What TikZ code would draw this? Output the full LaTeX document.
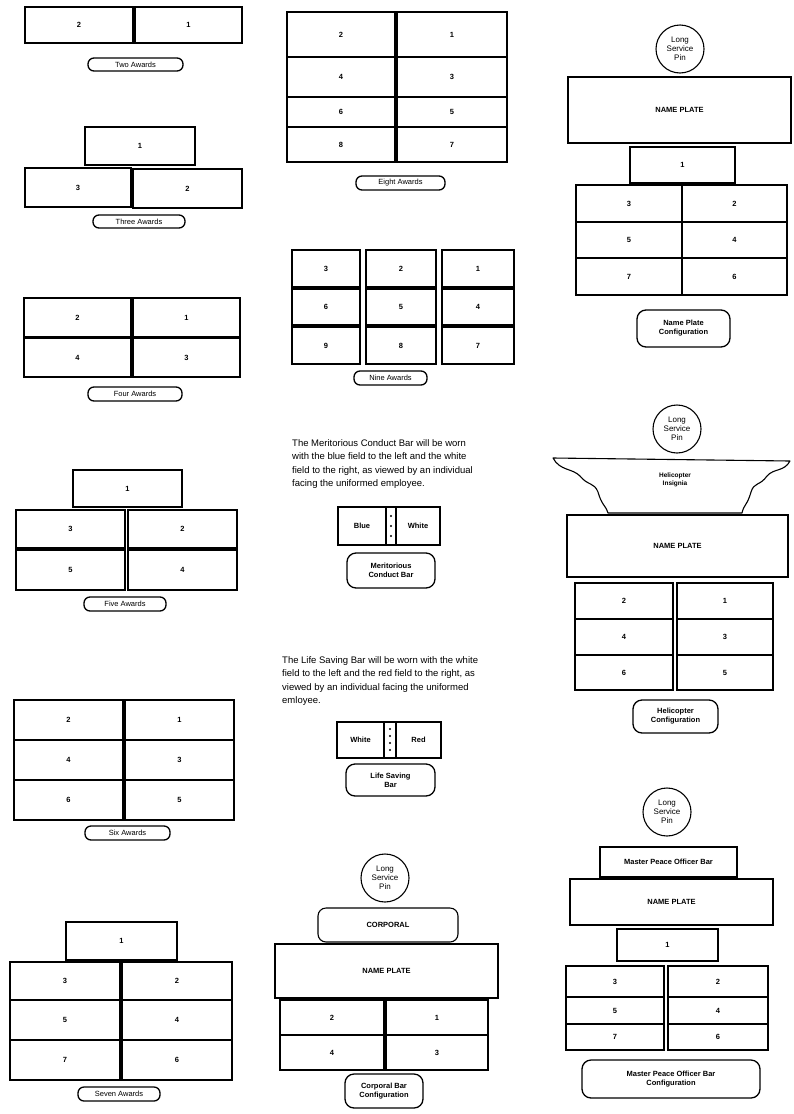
\documentclass[tikz,border=0pt]{standalone}
\usepackage{fontspec}
\setmainfont{Liberation Sans}
\tikzset{
  cell/.style={draw, line width=1.1pt, inner sep=0pt, outer sep=0pt, font=\fontsize{7.5}{8.5}\selectfont\bfseries},
  pill/.style={draw, line width=1.3pt, rounded corners=6pt, inner sep=0pt, outer sep=0pt, align=center, font=\fontsize{7.5}{8.5}\selectfont},
  pill2/.style={pill, rounded corners=9pt, font=\fontsize{7.5}{9}\selectfont\bfseries},
  pin/.style={draw, circle, line width=1.1pt, minimum size=48pt, inner sep=0pt, align=center, font=\fontsize{8}{9}\selectfont},
  para/.style={anchor=north west, align=left, inner sep=0pt, font=\fontsize{9.5}{13.5}\selectfont},
  plate/.style={cell, font=\fontsize{7.5}{8.5}\selectfont\bfseries},
  field/.style={cell, font=\fontsize{7.5}{8.5}\selectfont\bfseries}
}
\newcommand\bx[7][cell]{\node[#1,minimum width={(#5-#3)*1pt},minimum height={(#6-#4)*1pt}] (#2) at ({(#3+#5)/2},{(#4+#6)/2}) {#7};}
\begin{document}
\begin{tikzpicture}[x=1pt,y=-1pt]
\useasboundingbox[fill=white] (0,0) rectangle (793,1114);
% ---------- column 1 ----------
\bx{a2l}{25}{7}{133}{43}{2}
\bx{a2r}{135}{7}{242}{43}{1}
\bx[pill]{a2p}{88}{58}{183}{71}{Two Awards}

\bx{a3t}{85}{127}{195}{165}{1}
\bx{a3l}{25}{168}{131}{207}{3}
\bx{a3r}{133}{169}{242}{208}{2}
\bx[pill]{a3p}{93}{215}{185}{228}{Three Awards}

\bx{a4a}{24}{298}{131}{337}{2}
\bx{a4b}{133}{298}{240}{337}{1}
\bx{a4c}{24}{338}{131}{377}{4}
\bx{a4d}{133}{338}{240}{377}{3}
\bx[pill]{a4p}{88}{387}{182}{401}{Four Awards}

\bx{a5t}{73}{470}{182}{507}{1}
\bx{a5a}{16}{510}{125}{548}{3}
\bx{a5b}{128}{510}{237}{548}{2}
\bx{a5c}{16}{550}{125}{590}{5}
\bx{a5d}{128}{550}{237}{590}{4}
\bx[pill]{a5p}{84}{597}{166}{611}{Five Awards}

\bx{a6a}{14}{700}{123}{740}{2}
\bx{a6b}{125}{700}{234}{740}{1}
\bx{a6c}{14}{740}{123}{780}{4}
\bx{a6d}{125}{740}{234}{780}{3}
\bx{a6e}{14}{780}{123}{820}{6}
\bx{a6f}{125}{780}{234}{820}{5}
\bx[pill]{a6p}{85}{826}{170}{840}{Six Awards}

\bx{a7t}{66}{922}{177}{960}{1}
\bx{a7a}{10}{962}{120}{1000}{3}
\bx{a7b}{122}{962}{232}{1000}{2}
\bx{a7c}{10}{1000}{120}{1040}{5}
\bx{a7d}{122}{1000}{232}{1040}{4}
\bx{a7e}{10}{1040}{120}{1080}{7}
\bx{a7f}{122}{1040}{232}{1080}{6}
\bx[pill]{a7p}{78}{1087}{160}{1101}{Seven Awards}

% ---------- column 2 ----------
\bx{a8a}{287}{12}{395}{57}{2}
\bx{a8b}{397}{12}{507}{57}{1}
\bx{a8c}{287}{57}{395}{97}{4}
\bx{a8d}{397}{57}{507}{97}{3}
\bx{a8e}{287}{97}{395}{127}{6}
\bx{a8f}{397}{97}{507}{127}{5}
\bx{a8g}{287}{127}{395}{162}{8}
\bx{a8h}{397}{127}{507}{162}{7}
\bx[pill]{a8p}{356}{176}{445}{190}{Eight Awards}

\bx{a9a}{292}{250}{360}{287}{3}
\bx{a9b}{366}{250}{436}{287}{2}
\bx{a9c}{442}{250}{514}{287}{1}
\bx{a9d}{292}{289}{360}{325}{6}
\bx{a9e}{366}{289}{436}{325}{5}
\bx{a9f}{442}{289}{514}{325}{4}
\bx{a9g}{292}{327}{360}{364}{9}
\bx{a9h}{366}{327}{436}{364}{8}
\bx{a9i}{442}{327}{514}{364}{7}
\bx[pill]{a9p}{354}{371}{427}{385}{Nine Awards}

\node[para] (mtext) at (292,439) {The Meritorious Conduct Bar will be worn\\with the blue field to the left and the white\\field to the right, as viewed by an individual\\facing the uniformed employee.};
\bx[field]{mblue}{338}{507}{386}{545}{Blue}
\bx[field]{mstripe}{386}{507}{396}{545}{}
\bx[field]{mwhite}{396}{507}{440}{545}{White}
\foreach \yy in {516,526,536} \fill (391,\yy) circle (1.2pt);
\bx[pill2]{mpill}{347}{553}{435}{588}{Meritorious\\Conduct Bar}

\node[para] (ltext) at (282,656) {The Life Saving Bar will be worn with the white\\field to the left and the red field to the right, as\\viewed by an individual facing the uniformed\\emloyee.};
\bx[field]{lwhite}{337}{722}{384}{758}{White}
\bx[field]{lstripe}{384}{722}{396}{758}{}
\bx[field]{lred}{396}{722}{441}{758}{Red}
\foreach \yy in {729,736,743,750} \fill (390,\yy) circle (1.1pt);
\bx[pill2]{lpill}{346}{764}{435}{796}{Life Saving\\Bar}

\node[pin] (cpin) at (385,878) {Long\\Service\\Pin};
\bx[plate,rounded corners=8pt]{corp}{318}{908}{458}{942}{CORPORAL}
\bx[plate]{cplate}{275}{944}{498}{998}{NAME PLATE}
\bx{ca}{280}{1000}{384}{1035}{2}
\bx{cb}{386}{1000}{488}{1035}{1}
\bx{cc}{280}{1035}{384}{1070}{4}
\bx{cd}{386}{1035}{488}{1070}{3}
\bx[pill2]{cpill}{345}{1074}{423}{1108}{Corporal Bar\\Configuration}

% ---------- column 3 ----------
\node[pin] (npin) at (680,49) {Long\\Service\\Pin};
\bx[plate]{nplate}{568}{77}{791}{143}{NAME PLATE}
\bx{nt}{630}{147}{735}{183}{1}
\bx{na}{576}{185}{682}{222}{3}
\bx{nb}{682}{185}{787}{222}{2}
\bx{nc}{576}{222}{682}{258}{5}
\bx{nd}{682}{222}{787}{258}{4}
\bx{ne}{576}{258}{682}{295}{7}
\bx{nf}{682}{258}{787}{295}{6}
\bx[pill2]{npill}{637}{310}{730}{347}{Name Plate\\Configuration}

\node[pin] (hpin) at (677,429) {Long\\Service\\Pin};
\draw[line width=1.1pt, line join=round] (553,458) -- (790,461)
  .. controls (784,472) and (774,468) .. (767,476)
  .. controls (760,486) and (754,482) .. (751,492)
  .. controls (747,506) and (744,504) .. (742,513)
  -- (608,513)
  .. controls (605,504) and (602,506) .. (598,492)
  .. controls (594,482) and (588,486) .. (580,476)
  .. controls (572,468) and (560,471) .. (553,458) -- cycle;
\node[align=center, inner sep=0pt, font=\fontsize{6.5}{7.5}\selectfont\bfseries] (hins) at (675,480) {Helicopter\\Insignia};
\bx[plate]{hplate}{567}{515}{788}{577}{NAME PLATE}
\bx{ha}{575}{583}{673}{619}{2}
\bx{hb}{677}{583}{773}{619}{1}
\bx{hc}{575}{619}{673}{655}{4}
\bx{hd}{677}{619}{773}{655}{3}
\bx{he}{575}{655}{673}{690}{6}
\bx{hf}{677}{655}{773}{690}{5}
\bx[pill2]{hpill}{633}{700}{718}{733}{Helicopter\\Configuration}

\node[pin] (mpin) at (667,812) {Long\\Service\\Pin};
\bx[plate]{mpo}{600}{847}{737}{877}{Master Peace Officer Bar}
\bx[plate]{mplate}{570}{879}{773}{925}{NAME PLATE}
\bx{mt}{617}{929}{718}{961}{1}
\bx{ma}{566}{966}{664}{997}{3}
\bx{mb}{668}{966}{768}{997}{2}
\bx{mc}{566}{997}{664}{1024}{5}
\bx{md}{668}{997}{768}{1024}{4}
\bx{me}{566}{1024}{664}{1050}{7}
\bx{mf}{668}{1024}{768}{1050}{6}
\bx[pill2]{mppill}{582}{1060}{760}{1098}{Master Peace Officer Bar\\Configuration}
\end{tikzpicture}
\end{document}
